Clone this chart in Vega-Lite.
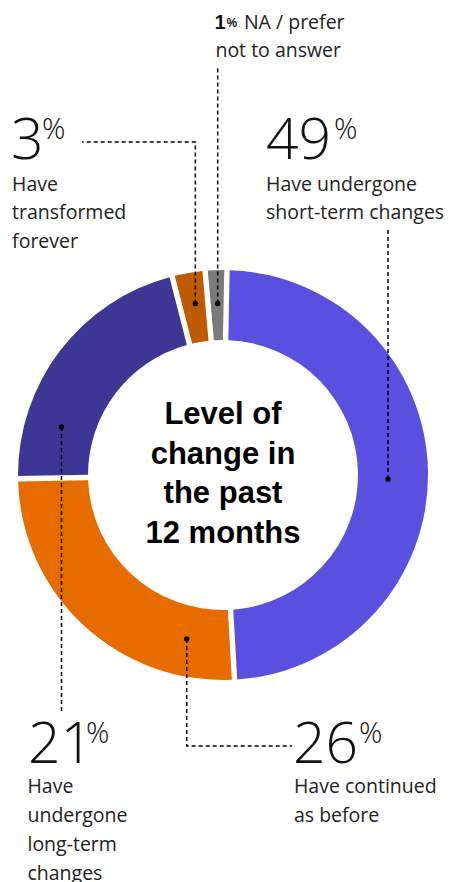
{
  "$schema": "https://vega.github.io/schema/vega-lite/v6.json",
  "width": 453,
  "height": 882,
  "autosize": "none",
  "padding": 0,
  "background": "white",
  "view": {"stroke": null},
  "datasets": {
    "slices": [
      {"category": "Have undergone short-term changes", "pct": 48.8, "ord": 1},
      {"category": "Have continued as before", "pct": 25.6, "ord": 2},
      {"category": "Have undergone long-term changes", "pct": 21.3, "ord": 3},
      {"category": "Have transformed forever", "pct": 2.6, "ord": 4},
      {"category": "NA / prefer not to answer", "pct": 1.7, "ord": 5}
    ],
    "leaders": [
      {"seg": "A", "o": 1, "x": 80.5, "y": 119.5},
      {"seg": "A", "o": 2, "x": 80.5, "y": -2.0},
      {"seg": "B", "o": 1, "x": -17.7, "y": -80.0},
      {"seg": "B", "o": 2, "x": -17.7, "y": -132.2},
      {"seg": "B", "o": 3, "x": 33.7, "y": -132.2},
      {"seg": "C", "o": 1, "x": -78.8, "y": 23.4},
      {"seg": "C", "o": 2, "x": -78.8, "y": -115.1},
      {"seg": "D", "o": 1, "x": -13.5, "y": 83.7},
      {"seg": "D", "o": 2, "x": -13.5, "y": 162.4},
      {"seg": "D", "o": 3, "x": -68.8, "y": 162.4},
      {"seg": "E", "o": 1, "x": -2.6, "y": 83.7},
      {"seg": "E", "o": 2, "x": -2.6, "y": 198.5}
    ],
    "dots": [
      {"seg": "A", "x": 80.5, "y": -2.0},
      {"seg": "B", "x": -17.7, "y": -80.0},
      {"seg": "C", "x": -78.8, "y": 23.4},
      {"seg": "D", "x": -13.5, "y": 83.7},
      {"seg": "E", "x": -2.6, "y": 83.7}
    ],
    "labels": [
      {"kind": "big", "text": "3", "x": -103.4, "y": 154.1},
      {"kind": "sup", "text": "%", "x": -88.3, "y": 163.7},
      {"kind": "big", "text": "49", "x": 21.0, "y": 154.1},
      {"kind": "sup", "text": "%", "x": 54.1, "y": 163.7},
      {"kind": "big", "text": "21", "x": -95.1, "y": -140.5},
      {"kind": "sup", "text": "%", "x": -66.8, "y": -130.7},
      {"kind": "big", "text": "26", "x": 34.1, "y": -140.5},
      {"kind": "sup", "text": "%", "x": 66.3, "y": -130.7},
      {"kind": "body", "text": "Have", "x": -102.9, "y": 138.7},
      {"kind": "body", "text": "transformed", "x": -102.9, "y": 124.7},
      {"kind": "body", "text": "forever", "x": -102.9, "y": 110.7},
      {"kind": "body", "text": "Have undergone", "x": 21.0, "y": 138.7},
      {"kind": "body", "text": "short-term changes", "x": 21.0, "y": 124.7},
      {"kind": "bold", "text": "1", "x": -4.0, "y": 217.4},
      {"kind": "supsmall", "text": "%", "x": 1.7, "y": 218.4},
      {"kind": "body", "text": "NA / prefer", "x": 10.2, "y": 217.4},
      {"kind": "body", "text": "not to answer", "x": -3.7, "y": 203.7},
      {"kind": "body", "text": "Have", "x": -95.4, "y": -155.3},
      {"kind": "body", "text": "undergone", "x": -95.4, "y": -169.4},
      {"kind": "body", "text": "long-term", "x": -95.4, "y": -183.6},
      {"kind": "body", "text": "changes", "x": -95.4, "y": -197.7},
      {"kind": "body", "text": "Have continued", "x": 34.6, "y": -155.0},
      {"kind": "body", "text": "as before", "x": 34.6, "y": -169.1},
      {"kind": "title", "text": "Level of", "x": 0, "y": 24.9},
      {"kind": "title", "text": "change in", "x": 0, "y": 5.6},
      {"kind": "title", "text": "the past", "x": 0, "y": -13.8},
      {"kind": "title", "text": "12 months", "x": 0, "y": -33.2}
    ]
  },
  "layer": [
    {
      "data": {"name": "slices"},
      "mark": {"type": "arc", "outerRadius": 205, "innerRadius": 135, "padAngle": 0.022},
      "encoding": {
        "x": {"datum": 0, "type": "quantitative", "scale": {"domain": [-108.8, 112.2], "nice": false, "zero": false}, "axis": null},
        "y": {"datum": 0, "type": "quantitative", "scale": {"domain": [-198.5, 231.7], "nice": false, "zero": false}, "axis": null},
        "theta": {"field": "pct", "type": "quantitative", "stack": true, "scale": {"range": [0.0192, 6.3024]}},
        "order": {"field": "ord", "type": "quantitative"},
        "color": {
          "field": "category", "type": "nominal", "legend": null,
          "scale": {
            "domain": ["Have undergone short-term changes", "Have continued as before", "Have undergone long-term changes", "Have transformed forever", "NA / prefer not to answer"],
            "range": ["#5A50DF", "#E76C00", "#3C3795", "#BF5A00", "#7A7A7A"]
          }
        }
      }
    },
    {
      "data": {"name": "leaders"},
      "mark": {"type": "line", "stroke": "#000000", "strokeWidth": 1.5, "strokeDash": [4, 3]},
      "encoding": {
        "x": {"field": "x", "type": "quantitative", "scale": {"domain": [-108.8, 112.2], "nice": false, "zero": false}, "axis": null},
        "y": {"field": "y", "type": "quantitative", "scale": {"domain": [-198.5, 231.7], "nice": false, "zero": false}, "axis": null},
        "detail": {"field": "seg", "type": "nominal"},
        "order": {"field": "o", "type": "quantitative"}
      }
    },
    {
      "data": {"name": "dots"},
      "mark": {"type": "circle", "size": 30, "color": "#000000", "opacity": 1},
      "encoding": {
        "x": {"field": "x", "type": "quantitative", "scale": {"domain": [-108.8, 112.2], "nice": false, "zero": false}, "axis": null},
        "y": {"field": "y", "type": "quantitative", "scale": {"domain": [-198.5, 231.7], "nice": false, "zero": false}, "axis": null}
      }
    },
    {
      "data": {"name": "labels"},
      "transform": [{"filter": "datum.kind === 'big'"}],
      "mark": {"type": "text", "align": "left", "baseline": "alphabetic", "font": "Open Sans", "fontSize": 57, "fontWeight": 300, "color": "#111111"},
      "encoding": {
        "x": {"field": "x", "type": "quantitative", "scale": {"domain": [-108.8, 112.2], "nice": false, "zero": false}, "axis": null},
        "y": {"field": "y", "type": "quantitative", "scale": {"domain": [-198.5, 231.7], "nice": false, "zero": false}, "axis": null},
        "text": {"field": "text"}
      }
    },
    {
      "data": {"name": "labels"},
      "transform": [{"filter": "datum.kind === 'sup'"}],
      "mark": {"type": "text", "align": "left", "baseline": "alphabetic", "font": "Open Sans", "fontSize": 29, "fontWeight": 300, "color": "#111111"},
      "encoding": {
        "x": {"field": "x", "type": "quantitative", "scale": {"domain": [-108.8, 112.2], "nice": false, "zero": false}, "axis": null},
        "y": {"field": "y", "type": "quantitative", "scale": {"domain": [-198.5, 231.7], "nice": false, "zero": false}, "axis": null},
        "text": {"field": "text"}
      }
    },
    {
      "data": {"name": "labels"},
      "transform": [{"filter": "datum.kind === 'body'"}],
      "mark": {"type": "text", "align": "left", "baseline": "alphabetic", "font": "Open Sans", "fontSize": 19.5, "fontWeight": 400, "color": "#222222"},
      "encoding": {
        "x": {"field": "x", "type": "quantitative", "scale": {"domain": [-108.8, 112.2], "nice": false, "zero": false}, "axis": null},
        "y": {"field": "y", "type": "quantitative", "scale": {"domain": [-198.5, 231.7], "nice": false, "zero": false}, "axis": null},
        "text": {"field": "text"}
      }
    },
    {
      "data": {"name": "labels"},
      "transform": [{"filter": "datum.kind === 'bold'"}],
      "mark": {"type": "text", "align": "left", "baseline": "alphabetic", "font": "Liberation Sans", "fontSize": 19.5, "fontWeight": "bold", "color": "#111111"},
      "encoding": {
        "x": {"field": "x", "type": "quantitative", "scale": {"domain": [-108.8, 112.2], "nice": false, "zero": false}, "axis": null},
        "y": {"field": "y", "type": "quantitative", "scale": {"domain": [-198.5, 231.7], "nice": false, "zero": false}, "axis": null},
        "text": {"field": "text"}
      }
    },
    {
      "data": {"name": "labels"},
      "transform": [{"filter": "datum.kind === 'supsmall'"}],
      "mark": {"type": "text", "align": "left", "baseline": "alphabetic", "font": "Liberation Sans", "fontSize": 12, "fontWeight": "bold", "color": "#111111"},
      "encoding": {
        "x": {"field": "x", "type": "quantitative", "scale": {"domain": [-108.8, 112.2], "nice": false, "zero": false}, "axis": null},
        "y": {"field": "y", "type": "quantitative", "scale": {"domain": [-198.5, 231.7], "nice": false, "zero": false}, "axis": null},
        "text": {"field": "text"}
      }
    },
    {
      "data": {"name": "labels"},
      "transform": [{"filter": "datum.kind === 'title'"}],
      "mark": {"type": "text", "align": "center", "baseline": "alphabetic", "font": "Liberation Sans", "fontSize": 31, "fontWeight": "bold", "color": "#000000"},
      "encoding": {
        "x": {"field": "x", "type": "quantitative", "scale": {"domain": [-108.8, 112.2], "nice": false, "zero": false}, "axis": null},
        "y": {"field": "y", "type": "quantitative", "scale": {"domain": [-198.5, 231.7], "nice": false, "zero": false}, "axis": null},
        "text": {"field": "text"}
      }
    }
  ]
}
